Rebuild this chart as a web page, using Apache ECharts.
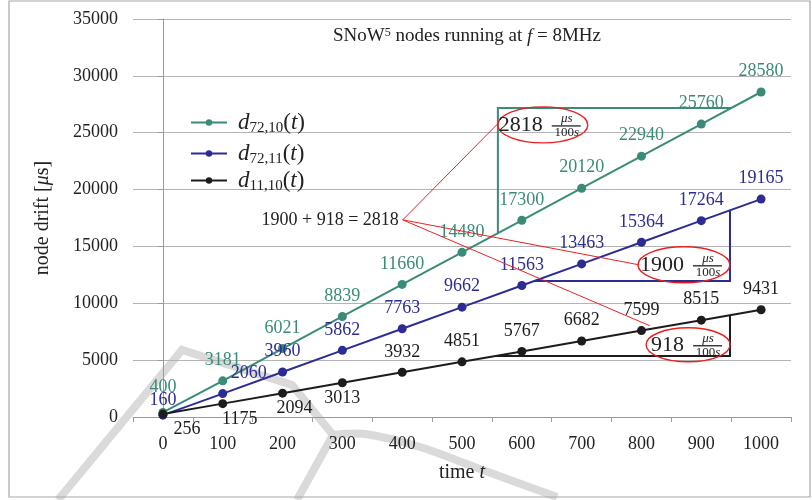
<!DOCTYPE html>
<html>
<head>
<meta charset="utf-8">
<script src="https://cdn.jsdelivr.net/npm/echarts@6/dist/echarts.min.js"></script>
<style>
  html, body { margin: 0; padding: 0; background: #fff; }
  #chart { width: 812px; height: 500px; }
</style>
</head>
<body>
<div id="chart"></div>
<script>
const serif = '"Liberation Serif", "DejaVu Serif", serif';

// data
const times = [0, 100, 200, 300, 400, 500, 600, 700, 800, 900, 1000];
const drift7210 = [400, 3181, 6021, 8839, 11660, 14480, 17300, 20120, 22940, 25760, 28580];
const drift7211 = [160, 2060, 3960, 5862, 7763, 9662, 11563, 13463, 15364, 17264, 19165];
const drift1110 = [256, 1175, 2094, 3013, 3932, 4851, 5767, 6682, 7599, 8515, 9431];
const xTickValues = [-50, 50, 150, 250, 350, 450, 550, 650, 750, 850, 950, 1050];

// slope triangles and annotation anchors (data coordinates)
const slope7210 = [[560, 16170], [560, 27170], [950, 27170]];
const slope7211 = [[621, 11960], [948, 11960], [948, 18180]];
const slope1110 = [[556, 5365], [948, 5365], [948, 8955]];
const sumAnchor = [401, 17337];
const rateEnds = [[560, 25800], [796, 13383], [814, 8023]];
const rateCenters = [[635, 25685], [871, 13383], [878, 6353]];
const rateValues = ["2818", "1900", "918"];

const green = "#3a8b77";
const blue = "#2c2c94";
const black = "#1c1c1c";

const chart = echarts.init(document.getElementById("chart"));

function driftSeries(name, values, color, tweaks) {
  return {
    name: name,
    type: "line",
    color: color,
    symbol: "circle",
    symbolSize: 9,
    lineStyle: { width: 2, color: color },
    itemStyle: { color: color },
    label: {
      show: true,
      position: "top",
      distance: 7,
      color: color,
      fontFamily: serif,
      fontSize: 18,
      formatter: (p) => p.value[1],
    },
    data: times.map((t, i) => {
      const item = { value: [t, values[i]] };
      if (tweaks[i]) item.label = tweaks[i];
      return item;
    }),
    z: 3,
  };
}

const subs = { "d72,10(t)": "72,10", "d72,11(t)": "72,11", "d11,10(t)": "11,10" };
const legendRich = {
  d: { fontFamily: serif, fontStyle: "italic", fontSize: 23, color: "#222", lineHeight: 26 },
  s: { fontFamily: serif, fontSize: 15, color: "#222", lineHeight: 14, verticalAlign: "bottom" },
  p: { fontFamily: serif, fontSize: 23, color: "#222", lineHeight: 26 },
};
const legendTops = [106, 137, 164];

const option = {
  animation: false,
  backgroundColor: "#fff",
  title: {
    text: "SNoW{sup|5} nodes running at {i|f} = 8MHz",
    left: 462,
    top: 22,
    textAlign: "center",
    textStyle: {
      fontFamily: serif,
      fontSize: 19,
      fontWeight: "normal",
      color: "#222",
      rich: {
        sup: { fontFamily: serif, fontSize: 12, color: "#222", verticalAlign: "top", lineHeight: 10 },
        i: { fontFamily: serif, fontSize: 19, fontStyle: "italic", color: "#222" },
      },
    },
  },
  legend: Object.keys(subs).map((n, i) => ({
    data: [n],
    left: 185,
    top: legendTops[i],
    itemWidth: 36,
    itemHeight: 8,
    selectedMode: false,
    textStyle: { padding: [0, 0, 0, 6], rich: legendRich },
    formatter: (name) => "{d|d}{s|" + subs[name] + "}{p|(}{d|t}{p|)}",
  })),
  grid: { left: 133, right: 21, top: 19, bottom: 83 },
  xAxis: {
    type: "value",
    min: -50,
    max: 1050,
    name: "time {i|t}",
    nameLocation: "middle",
    nameGap: 46,
    nameTextStyle: {
      fontFamily: serif,
      fontSize: 20,
      color: "#222",
      rich: { i: { fontFamily: serif, fontSize: 20, fontStyle: "italic", color: "#222" } },
    },
    axisLine: { lineStyle: { color: "#9a9a9a", width: 1 } },
    axisTick: { customValues: xTickValues, length: 5, lineStyle: { color: "#9a9a9a" } },
    axisLabel: {
      customValues: times,
      margin: 18,
      fontFamily: serif,
      fontSize: 18,
      color: "#222",
      formatter: (v) => String(v),
    },
    splitLine: { show: false },
  },
  yAxis: {
    type: "value",
    min: 0,
    max: 35000,
    interval: 5000,
    name: "node drift [{i|μ}s]",
    nameLocation: "middle",
    nameGap: 80,
    nameTextStyle: {
      fontFamily: serif,
      fontSize: 20,
      color: "#222",
      rich: { i: { fontFamily: serif, fontSize: 20, fontStyle: "italic", color: "#222" } },
    },
    axisLine: { show: true, lineStyle: { color: "#9a9a9a", width: 1 } },
    axisTick: { show: true, length: 5, lineStyle: { color: "#9a9a9a" } },
    axisLabel: { margin: 15, fontFamily: serif, fontSize: 18, color: "#222", formatter: (v) => String(v) },
    splitLine: { lineStyle: { color: "#b4b4b4", width: 1 } },
  },
  series: [
    {
      type: "lines",
      coordinateSystem: "cartesian2d",
      polyline: true,
      silent: true,
      lineStyle: { width: 2, opacity: 1 },
      data: [
        { coords: slope7210, lineStyle: { color: green } },
        { coords: slope7211, lineStyle: { color: blue } },
        { coords: slope1110, lineStyle: { color: black } },
      ],
      z: 2,
    },
    driftSeries("d72,10(t)", drift7210, green, { 0: { distance: 12 } }),
    driftSeries("d72,11(t)", drift7211, blue, { 0: { distance: 1 }, 1: { offset: [26, 0] } }),
    driftSeries("d11,10(t)", drift1110, black, {
      0: { position: "bottom", distance: 2, offset: [24, 0] },
      1: { position: "bottom", distance: 2, offset: [17, 0] },
      2: { position: "bottom", distance: 2, offset: [12, 0] },
      3: { position: "bottom", distance: 2 },
    }),
    {
      type: "lines",
      coordinateSystem: "cartesian2d",
      silent: true,
      lineStyle: { color: "#ee2020", width: 1, opacity: 1 },
      data: rateEnds.map((e) => ({ coords: [sumAnchor, e] })),
      z: 5,
    },
  ],
};

chart.setOption(option);

// annotations placed from data coordinates
const px = (p) => chart.convertToPixel({ gridIndex: 0 }, p);
const rateRadii = [[45, 18], [46, 18], [42, 17]];
const rateShift = [0, 0, -4];
const wmStyle = { fill: "none", stroke: "#dadada", lineWidth: 8, lineJoin: "miter" };
const graphics = [
  {
    type: "rect",
    silent: true,
    shape: { x: 9, y: 1, width: 801, height: 496 },
    style: { fill: "none", stroke: "#a8a8a8", lineWidth: 1.2 },
  },
  // faint watermark behind the plot
  {
    type: "polyline",
    silent: true,
    z: -1,
    shape: { points: [[58, 500], [182, 350], [292, 385], [333, 435]] },
    style: wmStyle,
  },
  {
    type: "polyline",
    silent: true,
    z: -1,
    shape: { points: [[333, 435], [297, 500]] },
    style: wmStyle,
  },
  {
    type: "polyline",
    silent: true,
    z: -1,
    shape: { points: [[333, 435], [365, 434], [420, 447], [480, 469], [557, 497]], smooth: 0.3 },
    style: wmStyle,
  },
];

const sumPt = px(sumAnchor);
graphics.push({
  type: "text",
  silent: true,
  z: 10,
  x: sumPt[0] - 4,
  y: sumPt[1],
  style: {
    text: "1900 + 918 = 2818",
    fontFamily: serif,
    fontSize: 18,
    fill: "#222",
    align: "right",
    verticalAlign: "middle",
  },
});

rateCenters.forEach((c, i) => {
  const p = px(c);
  const right = p[0] + rateShift[i];
  const barMid = right + 24;
  graphics.push(
    {
      type: "ellipse",
      silent: true,
      z: 10,
      shape: { cx: p[0], cy: p[1], rx: rateRadii[i][0], ry: rateRadii[i][1] },
      style: { fill: "none", stroke: "#e82020", lineWidth: 1.4 },
    },
    {
      type: "text",
      silent: true,
      z: 10,
      x: right,
      y: p[1],
      style: { text: rateValues[i], fontFamily: serif, fontSize: 22, fill: "#222", align: "right", verticalAlign: "middle" },
    },
    {
      type: "line",
      silent: true,
      z: 10,
      shape: { x1: right + 9, y1: p[1] + 1, x2: right + 38, y2: p[1] + 1 },
      style: { stroke: "#222", lineWidth: 1.3 },
    },
    {
      type: "text",
      silent: true,
      z: 10,
      x: barMid,
      y: p[1] - 6,
      style: { text: "μs", fontFamily: serif, fontStyle: "italic", fontSize: 13, fill: "#222", align: "center", verticalAlign: "middle" },
    },
    {
      type: "text",
      silent: true,
      z: 10,
      x: barMid,
      y: p[1] + 8,
      style: {
        text: "100{i|s}",
        fontFamily: serif,
        fontSize: 13,
        fill: "#222",
        align: "center",
        verticalAlign: "middle",
        rich: { i: { fontFamily: serif, fontStyle: "italic", fontSize: 13, fill: "#222" } },
      },
    }
  );
});

chart.setOption({ graphic: graphics });

window.addEventListener("resize", function () {
  chart.resize();
});
</script>
</body>
</html>
